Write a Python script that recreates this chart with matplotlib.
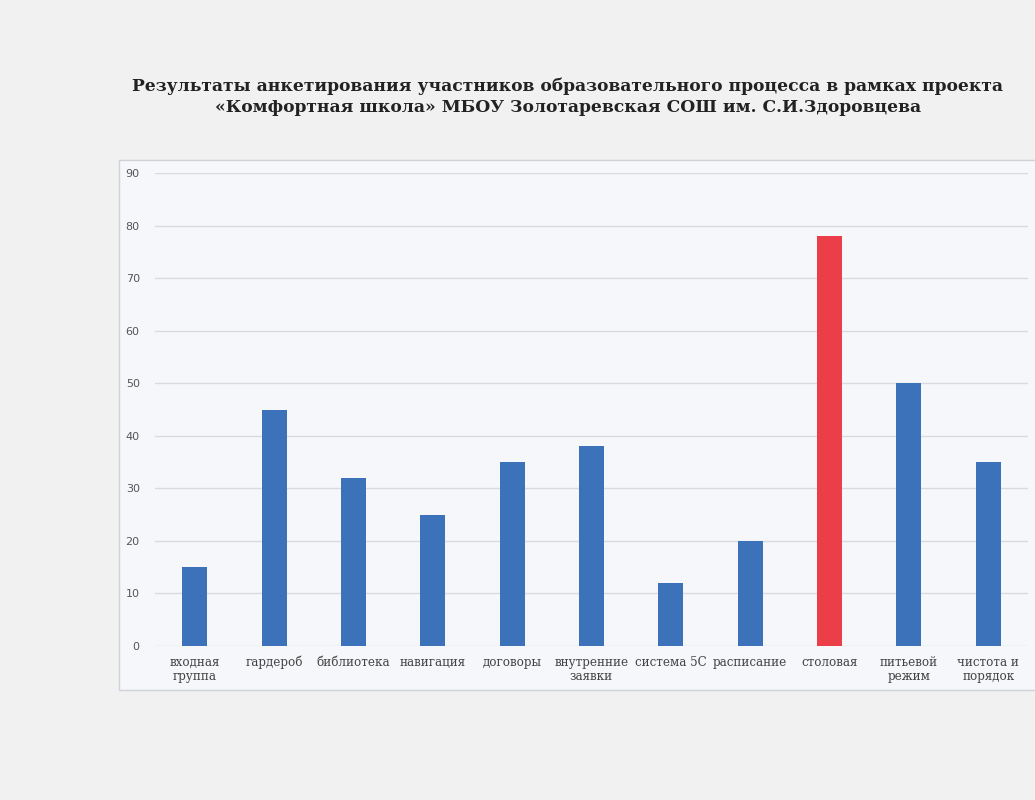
import matplotlib
matplotlib.use("Agg")
import matplotlib.pyplot as plt
from matplotlib.patches import Rectangle

categories = ["входная\nгруппа", "гардероб", "библиотека", "навигация", "договоры",
              "внутренние\nзаявки", "система 5С", "расписание", "столовая",
              "питьевой\nрежим", "чистота и\nпорядок"]
values = [15, 45, 32, 25, 35, 38, 12, 20, 78, 50, 35]
highlight = "столовая"
yticks = [0, 10, 20, 30, 40, 50, 60, 70, 80, 90]
title = ("Результаты анкетирования участников образовательного процесса в рамках проекта\n"
         "«Комфортная школа» МБОУ Золотаревская СОШ им. С.И.Здоровцева")

BLUE = "#3B72B9"
RED = "#EC3E48"

W, H = 1035, 800
fig = plt.figure(figsize=(W / 100, H / 100), dpi=100, facecolor="#f1f1f1")

# chart box
fig.patches.append(Rectangle((119 / W, 1 - 690 / H), (1040 - 119) / W, (690 - 160) / H,
                             transform=fig.transFigure, facecolor="#f6f7fa",
                             edgecolor="#cfd2d6", linewidth=1.0, zorder=-5))

ax = fig.add_axes([155 / W, (H - 646) / H, (1028 - 155) / W, (646 - 173) / H])
ax.set_zorder(2)
ax.set_facecolor("none")

x = list(range(len(categories)))
colors = [RED if c == highlight else BLUE for c in categories]
ax.bar(x, values, width=0.315, color=colors, zorder=3)

ax.set_xlim(-0.5, len(categories) - 0.5)
ax.set_ylim(0, 90)
ax.set_yticks(yticks)
ax.yaxis.grid(True, color="#d8dadd", linewidth=1.0, zorder=0)
ax.set_axisbelow(True)
for s in ax.spines.values():
    s.set_visible(False)
ax.tick_params(axis="both", length=0)
ax.tick_params(axis="y", pad=11, labelsize=8, labelcolor="#555555")
ax.set_xticks(x)
ax.set_xticklabels(categories, fontsize=8.6, color="#444444", family="DejaVu Serif",
                   linespacing=1.15)
ax.tick_params(axis="x", pad=7)
for lbl in ax.get_yticklabels():
    lbl.set_family("DejaVu Sans")

fig.text(568 / W, 1 - 97 / H, title, ha="center", va="center", fontsize=12.3,
         fontweight="bold", family="DejaVu Serif", color="#222222", linespacing=1.3)

fig.savefig("out.png", dpi=100, facecolor=fig.get_facecolor())
